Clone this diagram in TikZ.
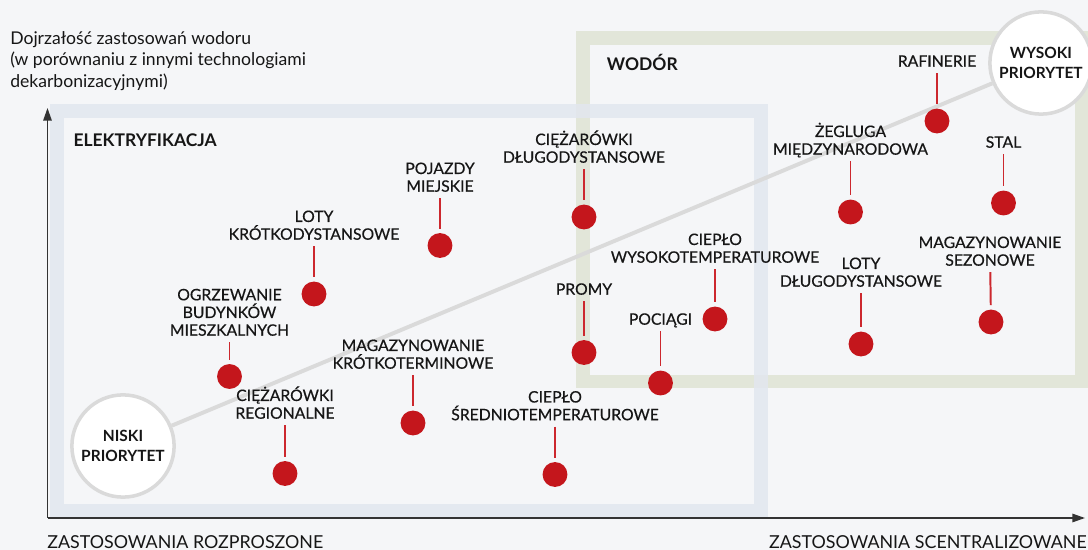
\documentclass[tikz,border=0pt]{standalone}
\usepackage{fontspec}
\setmainfont{Lato}
\newfontfamily\labelfont[FakeBold=0.5]{Lato}
\usetikzlibrary{arrows.meta,positioning}
\definecolor{h2paper}{RGB}{245,246,248}
\definecolor{h2blue}{RGB}{226,231,239}
\definecolor{h2green}{RGB}{226,230,217}
\definecolor{h2red}{RGB}{196,22,28}
\definecolor{h2stem}{RGB}{204,40,46}
\definecolor{h2gray}{RGB}{218,218,218}
\definecolor{h2ink}{RGB}{22,22,22}
\definecolor{h2axis}{RGB}{51,51,51}
\tikzset{
  dot/.style={circle, fill=h2red, draw=none, minimum size=17.7pt, inner sep=0pt,
              outer sep=0pt},
  lbl/.style={anchor=south, align=center, inner sep=0pt, text depth=0pt,
              font=\labelfont\fontsize{11.2}{12.6}\selectfont, text=h2ink},
  stem/.style={draw=h2stem, line width=1.4pt, shorten <=4.3pt, shorten >=3.2pt},
  elbox/.style={draw=h2blue, line width=9.9pt, opacity=0.85},
  h2box/.style={draw=h2green, line width=9.9pt},
  prio/.style={circle, draw=h2gray, fill=white, line width=2.5pt, minimum size=72.7pt,
               align=center, font=\fontsize{11}{14.7}\selectfont\bfseries, text=h2ink},
  prioline/.style={draw=h2gray, line width=2.8pt},
  grplbl/.style={anchor=base west, inner sep=0pt, font=\fontsize{12.4}{14}\selectfont\bfseries,
                 text=h2ink},
  axis/.style={draw=h2axis, line width=1.1pt, -{Triangle[length=9pt, width=6pt]}},
  axlbl/.style={inner sep=0pt, font=\fontsize{12.7}{15}\selectfont, text=h2ink},
}
\begin{document}
\begin{tikzpicture}[x=0.025cm, y=-0.025cm]
\useasboundingbox[fill=h2paper] (0,0) rectangle (1088,550);

% ---------------- groups: hydrogen and electrification ----------------
\draw[h2box] (583,38) rectangle (1082,381.5);
\draw[elbox] (57,111) rectangle (761,511);
\node[grplbl] (wodor) at (606.7,71) {WODÓR};
\node[grplbl] (elek) at (73.3,146.7) {ELEKTRYFIKACJA};

% ---------------- axes ----------------
\coordinate (origin) at (47.5,518);
\coordinate (ytip) at (47.5,108);
\coordinate (xtip) at (1085,518);
\draw[axis] (origin) -- (ytip);
\draw[axis] (origin) -- (xtip);

\node[anchor=south west, align=left, inner sep=0pt, text depth=0pt, text=h2ink,
      font=\fontsize{12.5}{15.2}\selectfont] (ytitle) at (10,87.3)
  {Dojrzałość zastosowań wodoru\\
   (w porównaniu z innymi technologiami\\
   dekarbonizacyjnymi)};
\node[axlbl, anchor=base west] (xlow) at (47,548) {ZASTOSOWANIA ROZPROSZONE};
\node[axlbl, anchor=base east] (xhigh) at (1087,548) {ZASTOSOWANIA SCENTRALIZOWANE};

% ---------------- priority scale ----------------
\node[prio] (low) at (123,446) {NISKI\\PRIORYTET};
\node[prio] (high) at (1041,63) {WYSOKI\\PRIORYTET};
\draw[prioline] (low) -- (high);

% ---------------- applications ----------------
\node[dot] (raf) at (937,121) {};
\node[lbl] (raf-t) at (937,67) {RAFINERIE};
\draw[stem] (raf-t) -- (raf);

\node[dot] (zeg) at (850.5,212) {};
\node[lbl] (zeg-t) at (850.5,155) {ŻEGLUGA\\MIĘDZYNARODOWA};
\draw[stem] (zeg-t) -- (zeg);

\node[dot] (stal) at (1003.5,203) {};
\node[lbl] (stal-t) at (1003.5,148) {STAL};
\draw[stem] (stal-t) -- (stal);

\node[dot] (magsez) at (991,322) {};
\node[lbl] (magsez-t) at (990,266) {MAGAZYNOWANIE\\SEZONOWE};
\draw[stem] (magsez-t) -- (magsez);

\node[dot] (lotdl) at (861,344) {};
\node[lbl] (lotdl-t) at (861,287) {LOTY\\DŁUGODYSTANSOWE};
\draw[stem] (lotdl-t) -- (lotdl);

\node[dot] (cwys) at (715,319) {};
\node[lbl] (cwys-t) at (715,263) {CIEPŁO\\WYSOKOTEMPERATUROWE};
\draw[stem] (cwys-t) -- (cwys);

\node[dot] (poc) at (660.5,383) {};
\node[lbl] (poc-t) at (660.5,325) {POCIĄGI};
\draw[stem] (poc-t) -- (poc);

\node[dot] (promy) at (584,352.5) {};
\node[lbl] (promy-t) at (584,295) {PROMY};
\draw[stem] (promy-t) -- (promy);

\node[dot] (cdl) at (584,217) {};
\node[lbl] (cdl-t) at (584,163) {CIĘŻARÓWKI\\DŁUGODYSTANSOWE};
\draw[stem] (cdl-t) -- (cdl);

\node[dot] (csr) at (555,474.5) {};
\node[lbl] (csr-t) at (555,420.5) {CIEPŁO\\ŚREDNIOTEMPERATUROWE};
\draw[stem] (csr-t) -- (csr);

\node[dot] (magkr) at (413,423) {};
\node[lbl] (magkr-t) at (413,369) {MAGAZYNOWANIE\\KRÓTKOTERMINOWE};
\draw[stem] (magkr-t) -- (magkr);

\node[dot] (creg) at (285,473.5) {};
\node[lbl] (creg-t) at (285,419) {CIĘŻARÓWKI\\REGIONALNE};
\draw[stem] (creg-t) -- (creg);

\node[dot] (ogrz) at (229.5,376.5) {};
\node[lbl] (ogrz-t) at (229.5,336) {OGRZEWANIE\\BUDYNKÓW\\MIESZKALNYCH};
\draw[stem] (ogrz-t) -- (ogrz);

\node[dot] (lotkr) at (314,294) {};
\node[lbl] (lotkr-t) at (314,240) {LOTY\\KRÓTKODYSTANSOWE};
\draw[stem] (lotkr-t) -- (lotkr);

\node[dot] (poj) at (440,245.5) {};
\node[lbl] (poj-t) at (440,192) {POJAZDY\\MIEJSKIE};
\draw[stem] (poj-t) -- (poj);
\end{tikzpicture}
\end{document}
